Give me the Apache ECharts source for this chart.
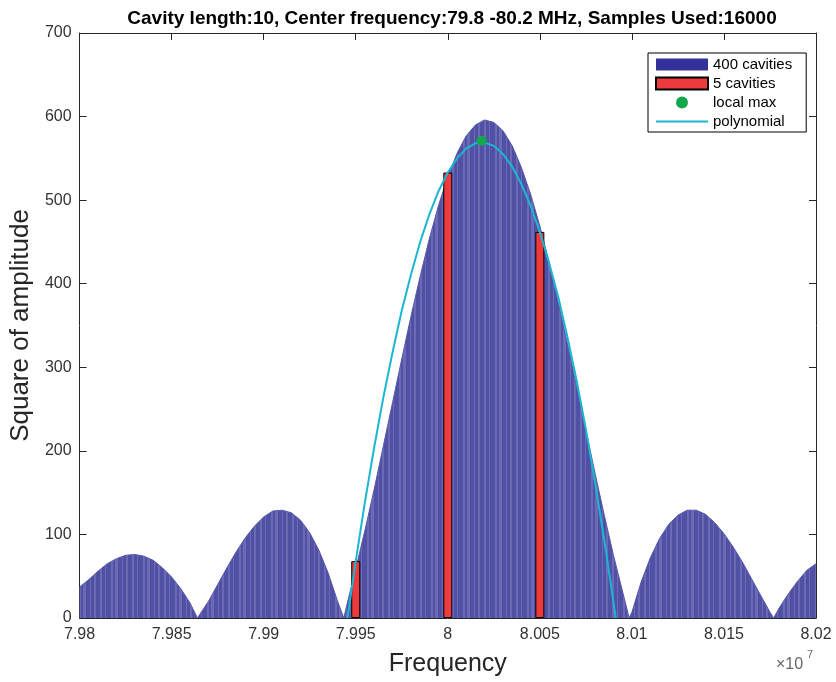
<!DOCTYPE html>
<html>
<head>
<meta charset="utf-8">
<title>Cavity spectrum</title>
<script src="https://cdn.jsdelivr.net/npm/echarts@6/dist/echarts.min.js"></script>
<style>
  html, body { margin: 0; padding: 0; background: #fff; }
  #chart { width: 836px; height: 682px; }
</style>
</head>
<body>
<div id="chart"></div>
<script>
// frequency in units of 1e7 Hz
const envFreq = [7.9800, 7.9805, 7.9810, 7.9815, 7.9820, 7.9825, 7.9830, 7.9835, 7.9840, 7.9845,
  7.9850, 7.9855, 7.9860, 7.9864, 7.9870, 7.9875, 7.9880, 7.9885, 7.9890, 7.9895,
  7.9900, 7.9905, 7.9910, 7.9915, 7.9920, 7.9925, 7.9930, 7.9935, 7.9940, 7.99435,
  7.9945, 7.9950, 7.9955, 7.9960, 7.9965, 7.9970, 7.9975, 7.9980, 7.9985, 7.9990,
  7.9995, 8.0000, 8.0005, 8.0010, 8.0015, 8.0020, 8.0025, 8.0030, 8.0035, 8.0040,
  8.0045, 8.0050, 8.0055, 8.0060, 8.0065, 8.0070, 8.0075, 8.0080, 8.0085, 8.0090,
  8.0095, 8.00985, 8.0100, 8.0105, 8.0110, 8.0115, 8.0120, 8.0125, 8.0130, 8.0135,
  8.0140, 8.0145, 8.0150, 8.0155, 8.0160, 8.0165, 8.0170, 8.0175, 8.0177, 8.0180,
  8.0185, 8.0190, 8.0195, 8.0200]
const envAmp = [37, 46, 56, 65, 71, 75, 76, 74, 69, 60,
  49, 35, 18, 0, 20, 40, 60, 79, 96, 110,
  121, 128, 129, 126, 117, 102, 81, 54, 21, 0,
  14, 59, 105, 154, 206, 258, 310, 361, 409, 454,
  494, 528, 556, 577, 590, 596, 593, 583, 565, 539,
  507, 469, 426, 378, 329, 277, 225, 173, 123, 75,
  31, 0, 7, 43, 72, 95, 112, 123, 129, 129,
  124, 114, 101, 85, 67, 47, 27, 7, 0, 12,
  29, 44, 57, 65]

const cavFreq = [7.995, 8.000, 8.005]
const cavAmp = [68, 533, 462]

const maxPoint = [8.00184, 571]

const polyFreq = [7.99455, 7.9950, 7.9955, 7.9960, 7.9965, 7.9970, 7.9975, 7.9980, 7.9985, 7.9990,
  7.9995, 8.0000, 8.0005, 8.0010, 8.0015, 8.0020, 8.0025, 8.0030, 8.0035, 8.0040,
  8.0045, 8.0050, 8.0055, 8.0060, 8.0065, 8.0070, 8.0075, 8.0080, 8.0085, 8.0090, 8.00912]
const polyAmp = [0, 68, 139, 204, 264, 318, 368, 411, 450, 483,
  511, 533, 550, 562, 568, 569, 565, 555, 540, 519,
  493, 462, 425, 384, 336, 284, 226, 162, 93, 19, 0]

const FONT = "'Liberation Sans', Arial, Helvetica, sans-serif"
const AXIS_COLOR = '#262626'

function pairs (xs, ys) {
  return xs.map((x, i) => [x, ys[i]])
}

// striped fill, the thin bars blend into light/dark vertical bands
function stripeFill () {
  const widths = [4, 2, 3, 1, 5, 2, 2, 3, 4, 1, 3, 2]
  const cols = ['#5050a5', '#6b6bb5']
  const total = widths.reduce((a, b) => a + b, 0)
  const cv = document.createElement('canvas')
  cv.width = total
  cv.height = 4
  const ctx = cv.getContext('2d')
  let x = 0
  widths.forEach((w, i) => {
    ctx.fillStyle = cols[i % 2]
    ctx.fillRect(x, 0, w, 4)
    x += w
  })
  return { image: cv, repeat: 'repeat' }
}

const chart = echarts.init(document.getElementById('chart'))

const xBase = {
  type: 'value',
  min: 7.98,
  max: 8.02,
  interval: 0.005,
  splitLine: { show: false },
  axisLine: { onZero: false, lineStyle: { color: AXIS_COLOR, width: 1 } },
  axisTick: { inside: true, length: 7, lineStyle: { color: AXIS_COLOR } }
}
const yBase = {
  type: 'value',
  min: 0,
  max: 700,
  interval: 100,
  splitLine: { show: false },
  axisLine: { show: true, lineStyle: { color: AXIS_COLOR, width: 1 } },
  axisTick: { show: true, inside: true, length: 7, lineStyle: { color: AXIS_COLOR } }
}

const option = {
  animation: false,
  backgroundColor: '#fff',
  textStyle: { fontFamily: FONT },
  title: {
    text: 'Cavity length:10, Center frequency:79.8 -80.2 MHz, Samples Used:16000',
    left: 447,
    textAlign: 'center',
    top: 4,
    textStyle: { fontFamily: FONT, fontSize: 19, fontWeight: 'bold', color: '#000' }
  },
  grid: { left: 77, right: 20, top: 33, bottom: 64, containLabel: false },
  legend: {
    orient: 'vertical',
    left: 648,
    top: 53,
    padding: [4, 14, 3, 7],
    itemWidth: 52,
    itemHeight: 12,
    itemGap: 4,
    backgroundColor: '#fff',
    borderColor: '#000',
    borderWidth: 1,
    borderRadius: 0,
    textStyle: { fontFamily: FONT, fontSize: 15, color: '#000', lineHeight: 15 },
    data: [
      { name: '400 cavities', icon: 'rect', itemStyle: { color: '#32329a' } },
      { name: '5 cavities', icon: 'rect' },
      { name: 'local max', icon: 'circle' },
      { name: 'polynomial', icon: 'path://M0,0 H52 V2 H0 Z' }
    ]
  },
  xAxis: [
    Object.assign({}, xBase, {
      position: 'bottom',
      name: 'Frequency',
      nameLocation: 'middle',
      nameGap: 34,
      nameTextStyle: { fontFamily: FONT, fontSize: 25, color: AXIS_COLOR },
      axisLabel: {
        margin: 9,
        fontSize: 16,
        color: '#333',
        fontFamily: FONT,
        formatter: v => String(+v.toFixed(3))
      }
    }),
    Object.assign({}, xBase, { position: 'top', axisLabel: { show: false } })
  ],
  yAxis: [
    Object.assign({}, yBase, {
      position: 'left',
      name: 'Square of amplitude',
      nameLocation: 'middle',
      nameGap: 40,
      nameTextStyle: { fontFamily: FONT, fontSize: 26, color: AXIS_COLOR },
      axisLabel: { margin: 8, fontSize: 16, color: '#333', fontFamily: FONT }
    }),
    Object.assign({}, yBase, { position: 'right', axisLabel: { show: false } })
  ],
  graphic: [
    { type: 'text', left: 776, top: 657, style: { text: '×10', fontSize: 16, fontFamily: FONT, fill: '#666' } },
    { type: 'text', left: 807, top: 649, style: { text: '7', fontSize: 11, fontFamily: FONT, fill: '#666' } }
  ],
  series: [
    {
      name: '400 cavities',
      type: 'line',
      data: pairs(envFreq, envAmp),
      symbol: 'none',
      z: 1,
      lineStyle: { color: '#5858aa', width: 1 },
      itemStyle: { color: '#5858aa' },
      areaStyle: { color: stripeFill(), opacity: 1 }
    },
    {
      name: '5 cavities',
      type: 'bar',
      data: pairs(cavFreq, cavAmp),
      barWidth: 9,
      z: 2,
      itemStyle: { color: '#ee3a3d', borderColor: '#000', borderWidth: 1 }
    },
    {
      name: 'polynomial',
      type: 'line',
      data: pairs(polyFreq, polyAmp),
      symbol: 'none',
      z: 3,
      lineStyle: { color: '#1bb6d1', width: 2 },
      itemStyle: { color: '#1bb6d1' }
    },
    {
      name: 'local max',
      type: 'scatter',
      data: [maxPoint],
      symbolSize: 10,
      z: 4,
      itemStyle: { color: '#14a84e', opacity: 1 }
    }
  ]
}

chart.setOption(option)
</script>
</body>
</html>
